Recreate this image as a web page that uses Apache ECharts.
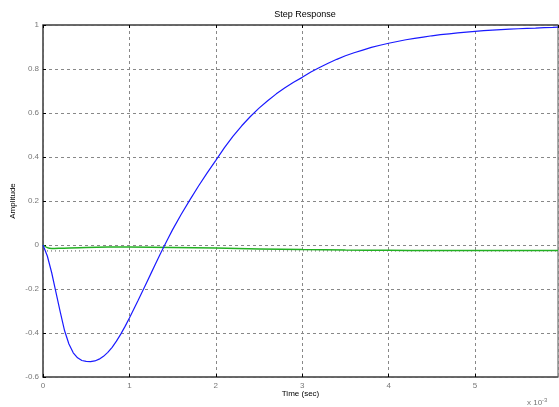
<!DOCTYPE html>
<html>
<head>
<meta charset="utf-8">
<script src="https://cdn.jsdelivr.net/npm/echarts@6/dist/echarts.min.js"></script>
<style>
html,body{margin:0;padding:0;background:#fff;}
#c{width:559px;height:407px;}
</style>
</head>
<body>
<div id="c"></div>
<script>
// Time (x 10^-3 sec) and amplitudes
const blueTime = [0, 0.05, 0.1, 0.15, 0.2, 0.25, 0.3, 0.35, 0.4, 0.45, 0.5, 0.55, 0.6, 0.65, 0.7, 0.75, 0.8, 0.85, 0.9, 0.95, 1.0, 1.05, 1.1, 1.15, 1.2, 1.25, 1.3, 1.35, 1.4, 1.45, 1.5,
  1.6, 1.7, 1.8, 1.9, 2.0, 2.1, 2.2, 2.3, 2.4, 2.5, 2.6, 2.7, 2.8, 2.9, 3.0, 3.1, 3.2, 3.3, 3.4, 3.5, 3.6, 3.7, 3.8, 3.9, 4.0,
  4.1, 4.2, 4.3, 4.4, 4.5, 4.6, 4.7, 4.8, 4.9, 5.0, 5.1, 5.2, 5.3, 5.4, 5.5, 5.6, 5.7, 5.8, 5.9, 5.96];
const blueAmp  = [0, -0.05, -0.125, -0.215, -0.305, -0.39, -0.45, -0.49, -0.513, -0.525, -0.529, -0.53, -0.527, -0.519, -0.506, -0.488, -0.465, -0.437, -0.405, -0.37, -0.332, -0.292, -0.252, -0.211, -0.17, -0.129, -0.088, -0.047, -0.007, 0.032, 0.07,
  0.14, 0.205, 0.268, 0.328, 0.385, 0.443, 0.495, 0.542, 0.584, 0.622, 0.656, 0.687, 0.715, 0.74, 0.762, 0.786, 0.807, 0.826, 0.844, 0.86, 0.874, 0.886, 0.898, 0.908, 0.917,
  0.925, 0.933, 0.939, 0.945, 0.951, 0.956, 0.96, 0.964, 0.968, 0.971, 0.974, 0.977, 0.979, 0.981, 0.983, 0.985, 0.986, 0.988, 0.989, 0.99];
const greenTime = [0, 0.05, 0.1, 0.2, 0.5, 1.0, 1.5, 2.0, 2.5, 3.0, 3.5, 4.0, 4.5, 5.0, 5.5, 5.96];
const greenAmp  = [0, -0.012, -0.016, -0.015, -0.011, -0.009, -0.011, -0.014, -0.018, -0.021, -0.023, -0.024, -0.025, -0.025, -0.025, -0.025];
const steadyLevel = -0.027;
const xTicks = [0, 1, 2, 3, 4, 5];
const yTicks = [-0.6, -0.4, -0.2, 0, 0.2, 0.4, 0.6, 0.8, 1];
const xMax = 5.96;

const pair = (xs, ys) => xs.map((x, i) => [x, ys[i]]);
const fmt = v => String(Math.round(v * 10) / 10);

const chart = echarts.init(document.getElementById('c'), null, {renderer: 'canvas'});
const font = 'Liberation Sans';
chart.setOption({
  backgroundColor: '#ffffff',
  animation: false,
  title: {
    text: 'Step Response',
    left: 300, top: 5, textAlign: 'center',
    textStyle: {fontFamily: font, fontSize: 9, fontWeight: 'normal', color: '#000'}
  },
  grid: {left: 43, top: 25, right: 1, bottom: 30, outerBoundsMode: 'none', containLabel: false,
    show: true, borderColor: '#555', borderWidth: 1, backgroundColor: '#fff'},
  xAxis: [{
    type: 'value', min: 0, max: xMax, interval: 1,
    name: 'Time (sec)', nameLocation: 'middle', nameGap: 13, nameMoveOverlap: false,
    nameTextStyle: {fontFamily: font, fontSize: 8, color: '#000'},
    axisLine: {show: true, onZero: false, lineStyle: {color: '#555', width: 1.5}},
    axisTick: {show: true, inside: true, length: 3, lineStyle: {color: '#000'}},
    axisLabel: {fontFamily: font, fontSize: 8, color: '#777', margin: 5, showMaxLabel: false,
      formatter: v => xTicks.includes(Math.round(v)) && Math.abs(v - Math.round(v)) < 1e-6 ? String(Math.round(v)) : ''},
    splitLine: {show: true, lineStyle: {color: '#888', type: [3, 3], width: 1}}
  }, {
    type: 'value', position: 'top', min: 0, max: xMax, interval: 1,
    axisLine: {show: true, onZero: false, lineStyle: {color: '#555', width: 1.5}},
    axisTick: {show: true, inside: true, length: 3, lineStyle: {color: '#000'}},
    axisLabel: {show: false}, splitLine: {show: false}
  }],
  yAxis: {
    type: 'value', min: -0.6, max: 1, interval: 0.2,
    name: 'Amplitude', nameLocation: 'middle', nameGap: 26, nameRotate: 90, nameMoveOverlap: false,
    nameTextStyle: {fontFamily: font, fontSize: 8, color: '#000'},
    axisLine: {show: true, onZero: false, lineStyle: {color: '#555', width: 1.5}},
    axisTick: {show: true, inside: true, length: 3, lineStyle: {color: '#000'}},
    axisLabel: {fontFamily: font, fontSize: 8, color: '#777', margin: 4, formatter: fmt},
    splitLine: {show: true, lineStyle: {color: '#888', type: [3, 3], width: 1}}
  },
  series: [{
    type: 'line', data: [[0, steadyLevel], [xMax, steadyLevel]],
    showSymbol: false, lineStyle: {color: '#555', width: 1, type: [1, 3]}, silent: true, z: 1
  }, {
    type: 'line', data: pair(greenTime, greenAmp), smooth: 0.3,
    showSymbol: false, lineStyle: {color: '#22b022', width: 1.5}, z: 2
  }, {
    type: 'line', data: pair(blueTime, blueAmp), smooth: false,
    showSymbol: false, lineStyle: {color: '#1a1aff', width: 1.2}, z: 3
  }],
  graphic: [{
    type: 'text', left: 527, top: 397,
    style: {
      text: '{a|x 10}{b|-3}',
      rich: {
        a: {fontFamily: font, fontSize: 8, fill: '#777'},
        b: {fontFamily: font, fontSize: 6, fill: '#777', verticalAlign: 'top', padding: [0, 0, 6, 0]}
      }
    }
  }]
});
</script>
</body>
</html>
